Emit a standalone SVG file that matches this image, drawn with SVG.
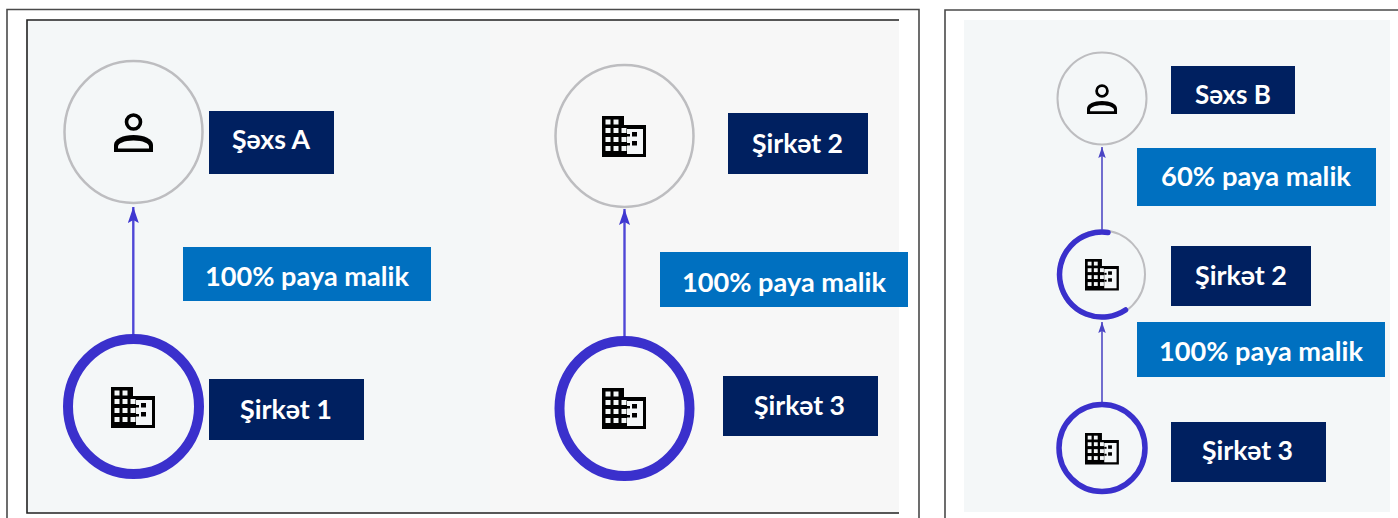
<svg xmlns="http://www.w3.org/2000/svg" xmlns:xlink="http://www.w3.org/1999/xlink" width="1398" height="518" viewBox="0 0 1398 518">
<style>
.frame{fill:none;stroke:#4a4a4a;stroke-width:1.6}
.rule{fill:none;stroke:#222;stroke-width:1.6}
.navy{fill:#002060}
.blue{fill:#0070c0}
.t{font-family:"Lato","Noto Sans","Liberation Sans",sans-serif;font-weight:700;font-size:26.500px;fill:#fff}
.ring{fill:none;stroke:#bdbdc0}
.own{fill:none;stroke:#3a30cc}
.line{stroke:#4f47d6;stroke-width:2.400;fill:none}
.line2{stroke:#5a55c8;stroke-width:1.700;fill:none}
</style>
<defs>
<marker id="ah" markerUnits="userSpaceOnUse" markerWidth="18" markerHeight="12" refX="16" refY="5.500" orient="auto"><path d="M0 0L16 5.500L0 11L3 5.500Z" fill="#3f37d0"/></marker>
<marker id="ah2" markerUnits="userSpaceOnUse" markerWidth="13" markerHeight="9" refX="11" refY="3.750" orient="auto"><path d="M0 0L11 3.750L0 7.500L2 3.750Z" fill="#4a44c4"/></marker>
<filter id="soft" x="-5%" y="-5%" width="110%" height="110%"><feGaussianBlur stdDeviation="0.6"/></filter>
<g id="person" filter="url(#soft)">
<circle cx="19.500" cy="9" r="7" fill="none" stroke="#000" stroke-width="3.600"/>
<path d="M0 39V32C0 26 9 22 19.500 22S39 26 39 32V39Z" fill="#000"/>
<path d="M4 35.500V33.500C4 30.500 10 27.500 19.500 27.500S35 30.500 35 33.500V35.500Z" fill="#f4f7f8"/>
</g>
<g id="building" filter="url(#soft)">
<path d="M0 0H22V9H44V41H0Z" fill="#000"/>
<path d="M25 13H41V38H25Z" fill="#f4f7f8"/>
<g fill="#f4f7f8">
<rect x="3.500" y="3.500" width="5" height="5"/><rect x="11.500" y="3.500" width="5" height="5"/>
<rect x="3.500" y="12" width="5" height="5"/><rect x="11.500" y="12" width="5" height="5"/><rect x="19.500" y="12" width="5" height="5"/>
<rect x="3.500" y="21" width="5" height="5"/><rect x="11.500" y="21" width="5" height="5"/><rect x="19.500" y="21" width="5" height="5"/>
<rect x="3.500" y="30" width="5" height="5"/><rect x="11.500" y="30" width="5" height="5"/><rect x="19.500" y="30" width="5" height="5"/>
</g>
<g fill="#000">
<rect x="30" y="16" width="5" height="4.500"/><rect x="30" y="25" width="5" height="4.500"/>
<rect x="25" y="18" width="3" height="2.500"/><rect x="25" y="27" width="3" height="2.500"/>
</g>
</g>
</defs>

<rect width="1398" height="518" fill="#fff"/>

<g id="panels">
<path class="frame" d="M7 518V9.500H919V518"/>
<rect x="27" y="20" width="463" height="493" fill="#f4f7f8"/>
<rect x="490" y="20" width="409" height="493" fill="#f7f7f7"/>
<path class="rule" d="M899 20H27V513H899"/>
<path class="frame" d="M945 518V10H1398"/>
<rect x="964" y="20" width="426" height="492" fill="#f4f7f8"/>
</g>

<g id="connectors">
<path class="line" d="M133.300 335V207" marker-end="url(#ah)"/>
<path class="line" d="M624.500 337V209" marker-end="url(#ah)"/>
<path class="line2" d="M1102 231V147" marker-end="url(#ah2)"/>
<path class="line2" d="M1102 403V322" marker-end="url(#ah2)"/>
</g>

<g id="node-sexs-a">
<ellipse class="ring" cx="133.500" cy="132" rx="69" ry="71" stroke-width="2.500"/>
<use href="#person" x="114" y="113"/>
<rect class="navy" x="209" y="111" width="125" height="63"/>
<text class="t" x="232" y="149" textLength="78" lengthAdjust="spacingAndGlyphs">Şəxs A</text>
</g>
<g id="node-sirket-1">
<ellipse class="own" cx="133.500" cy="406.500" rx="65.500" ry="67.500" stroke-width="10"/>
<use href="#building" x="111" y="387"/>
<rect class="navy" x="209" y="379" width="155" height="61"/>
<text class="t" x="240" y="419" textLength="92" lengthAdjust="spacingAndGlyphs">Şirkət 1</text>
</g>
<g id="label-a">
<rect class="blue" x="183" y="247" width="248" height="54"/>
<text class="t" x="205" y="285.500" textLength="204" lengthAdjust="spacingAndGlyphs">100% paya malik</text>
</g>

<g id="node-sirket-2">
<ellipse class="ring" cx="624.500" cy="136" rx="69" ry="71" stroke-width="2.500"/>
<use href="#building" x="602" y="116"/>
<rect class="navy" x="728" y="113" width="140" height="61"/>
<text class="t" x="752" y="152.500" textLength="91" lengthAdjust="spacingAndGlyphs">Şirkət 2</text>
</g>
<g id="node-sirket-3">
<ellipse class="own" cx="624.500" cy="408.500" rx="65" ry="67.500" stroke-width="10"/>
<use href="#building" x="602" y="388"/>
<rect class="navy" x="723" y="376" width="155" height="60"/>
<text class="t" x="754" y="415" textLength="91" lengthAdjust="spacingAndGlyphs">Şirkət 3</text>
</g>
<g id="label-b">
<rect class="blue" x="660" y="252" width="248" height="55"/>
<text class="t" x="682" y="291.500" textLength="204" lengthAdjust="spacingAndGlyphs">100% paya malik</text>
</g>

<g id="node-sexs-b">
<ellipse class="ring" cx="1102" cy="98.500" rx="44.500" ry="46" stroke-width="2"/>
<use href="#person" transform="translate(1087 84) scale(.77)"/>
<rect class="navy" x="1171" y="66" width="124" height="48"/>
<text class="t" x="1195" y="104" textLength="76" lengthAdjust="spacingAndGlyphs">Səxs B</text>
</g>
<g id="label-c">
<rect class="blue" x="1137" y="148" width="239" height="58"/>
<text class="t" x="1161" y="185.500" textLength="190" lengthAdjust="spacingAndGlyphs">60% paya malik</text>
</g>
<g id="node-sirket-2b">
<ellipse class="ring" cx="1101.500" cy="274.500" rx="43.500" ry="44" stroke-width="2"/>
<path class="own" d="M1108 232.500A42.500 42.500 0 1 0 1125.500 310" stroke-width="5.500" stroke-linecap="round"/>
<use href="#building" transform="translate(1085 259) scale(.77)"/>
<rect class="navy" x="1171" y="246" width="140" height="60"/>
<text class="t" x="1195" y="284.500" textLength="92" lengthAdjust="spacingAndGlyphs">Şirkət 2</text>
</g>
<g id="label-d">
<rect class="blue" x="1137" y="322" width="248" height="55"/>
<text class="t" x="1159" y="360.500" textLength="204" lengthAdjust="spacingAndGlyphs">100% paya malik</text>
</g>
<g id="node-sirket-3b">
<ellipse class="own" cx="1102" cy="448" rx="43" ry="43.500" stroke-width="5.500"/>
<use href="#building" transform="translate(1085 433) scale(.77)"/>
<rect class="navy" x="1171" y="422" width="155" height="60"/>
<text class="t" x="1202" y="460" textLength="91" lengthAdjust="spacingAndGlyphs">Şirkət 3</text>
</g>
</svg>
